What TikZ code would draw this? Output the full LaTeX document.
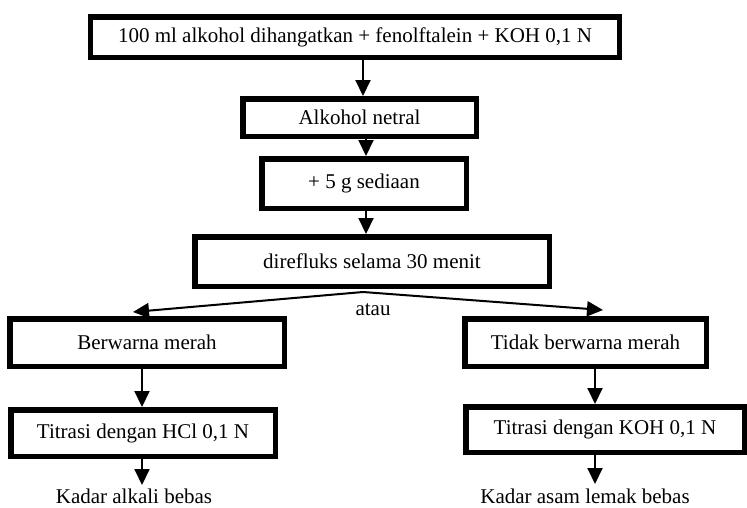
\documentclass[tikz,border=0pt]{standalone}
\usepackage{fontspec}
\setmainfont{Liberation Serif}
\usetikzlibrary{positioning,arrows.meta}

\begin{document}
\begin{tikzpicture}[x=1pt, y=-1pt,
      box/.style={draw=black, line width=5.5pt, fill=white, inner sep=0pt,
        font=\fontsize{21}{24}\selectfont},
      arr/.style={-{Triangle[width=15pt,length=16pt]}, line width=2pt},
      lbl/.style={font=\fontsize{21}{24}\selectfont}]
    \useasboundingbox (0,0) rectangle (747,507);
    % main column
    \node[box, minimum width=529pt, minimum height=40.5pt] (alk) at (355,37)
      {100 ml alkohol dihangatkan + fenolftalein + KOH 0,1 N};
    \node[box, minimum width=233.5pt, minimum height=37.5pt] (net) at (359.5,117.5) {Alkohol netral};
    \node[box, minimum width=204.5pt, minimum height=49.5pt] (sed) at (364,183.5) {+ 5 g sediaan};
    \node[box, minimum width=354.5pt, minimum height=49.5pt] (ref) at (372,261.5) {direfluks selama 30 menit};
    \draw[arr] (363,0 |- alk.south) -- (363,0 |- net.north);
    \draw[arr] (366,0 |- net.south) -- (366,0 |- sed.north);
    \draw[arr] (366,0 |- sed.south) -- (366,0 |- ref.north);
    % split: atau
    \coordinate (split) at (363,292);
    \coordinate (tipL) at (133,312);
    \coordinate (tipR) at (603,310);
    \draw[arr] (split) -- (tipL);
    \draw[arr] (split) -- (tipR);
    \node[lbl] (atau) at (373,310) {atau};
    % left branch
    \node[box, minimum width=274.5pt, minimum height=47.5pt] (mrh) at (147,342.5) {Berwarna merah};
    \node[box, minimum width=264.5pt, minimum height=46.5pt] (hcl) at (143,433) {Titrasi dengan HCl 0,1 N};
    \node[lbl, anchor=base] (alkali) at (134,503) {Kadar alkali bebas};
    \draw[arr] (142,0 |- mrh.south) -- (142,0 |- hcl.north);
    \draw[arr] (142,0 |- hcl.south) -- (142,485);
    % right branch
    \node[box, minimum width=241.5pt, minimum height=47.5pt] (tdk) at (585.5,342.5) {Tidak berwarna merah};
    \node[box, minimum width=278.5pt, minimum height=45.5pt] (koh) at (605,429.5) {Titrasi dengan KOH 0,1 N};
    \node[lbl, anchor=base] (asam) at (585,503) {Kadar asam lemak bebas};
    \draw[arr] (595,0 |- tdk.south) -- (595,0 |- koh.north);
    \draw[arr] (595,0 |- koh.south) -- (595,484);
\end{tikzpicture}
\end{document}
